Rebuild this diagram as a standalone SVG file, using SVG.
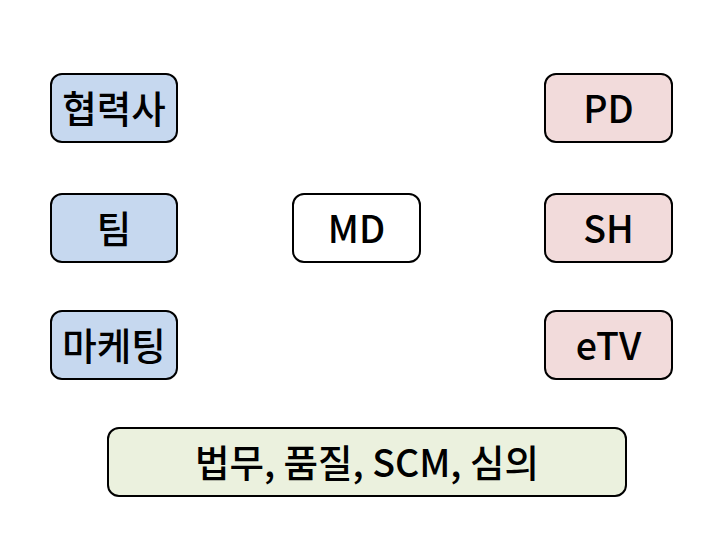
<svg xmlns="http://www.w3.org/2000/svg" width="720" height="547" viewBox="0 0 720 547">
<style>
rect{stroke:#000;stroke-width:2}
.b{fill:#c6d8ef}.p{fill:#f2dbdb}.w{fill:#fff}.g{fill:#ebf1de}
text{font-family:"Noto Sans CJK KR","Noto Sans",sans-serif;font-size:37.5px;font-weight:500;fill:#000;text-anchor:middle;dominant-baseline:central}
</style>
<rect width="720" height="547" fill="#fff" style="stroke:none"/>
<g id="connectors"></g>
<g id="n1"><rect class="b" x="51" y="74" width="126" height="68" rx="11"/><text x="114" y="106">협력사</text></g>
<g id="n2"><rect class="b" x="51" y="194" width="126" height="68" rx="11"/><text x="114" y="226">팀</text></g>
<g id="n3"><rect class="b" x="51" y="311" width="126" height="68" rx="11"/><text x="114" y="343">마케팅</text></g>
<g id="n4"><rect class="w" x="293" y="194" width="127" height="68" rx="11"/><text x="356.5" y="226">MD</text></g>
<g id="n5"><rect class="p" x="545" y="74" width="127" height="68" rx="11"/><text x="608.5" y="106">PD</text></g>
<g id="n6"><rect class="p" x="545" y="194" width="127" height="68" rx="11"/><text x="608.5" y="226">SH</text></g>
<g id="n7"><rect class="p" x="545" y="311" width="127" height="68" rx="11"/><text x="608.5" y="343">eTV</text></g>
<g id="n8"><rect class="g" x="108" y="428" width="518" height="68" rx="11"/><text x="367" y="460">법무, 품질, SCM, 심의</text></g>
</svg>
